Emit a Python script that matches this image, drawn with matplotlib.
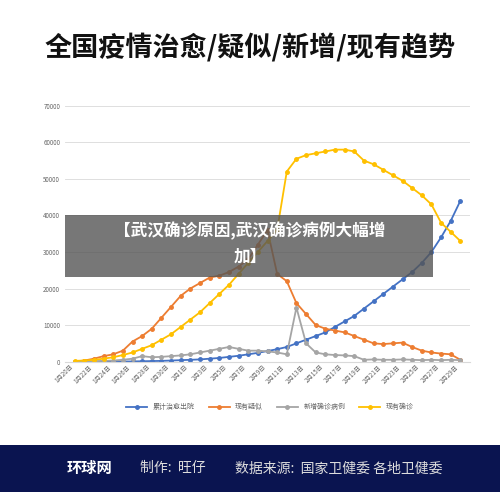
import matplotlib
matplotlib.use("Agg")
import matplotlib.pyplot as plt
import matplotlib.patches as mpatches
import numpy as np

plt.rcParams['font.family'] = ['Noto Sans CJK SC', 'DejaVu Sans']

dates = [f"1月{d}日" for d in range(20, 32)] + [f"2月{d}日" for d in range(1, 30)]
recovered = [0,0,0,0,0,30,50,100,150,200,300,400,500,600,800,1000,1300,1600,2000,2400,2900,
             3400,4000,5000,6000,7000,8000,9500,11000,12500,14500,16500,18500,20500,22500,24500,
             27000,30000,34000,38500,44000]
suspected = [0,300,800,1500,2000,3000,5500,7000,9000,12000,15000,18000,20000,21500,23000,23500,
             24500,26000,28000,32000,36000,24000,22000,16000,13000,10000,9000,8500,8000,7000,
             6000,5000,4800,5000,5200,4000,3000,2500,2200,2000,500]
new_cases = [0,0,100,200,300,500,800,1500,1200,1300,1500,1700,2000,2500,3000,3500,4000,3500,
             3000,3000,2800,2500,2000,14800,5000,2500,2000,1800,1700,1500,500,600,500,500,600,
             500,400,500,400,500,400]
existing = [200,300,500,800,1200,1800,2500,3500,4500,6000,7500,9500,11500,13500,16000,18500,
            21000,24000,27000,30000,33000,36000,52000,55500,56500,57000,57500,58000,58000,57500,
            55000,54000,52500,51000,49500,47500,45500,43000,38000,35500,33000]

fig = plt.figure(figsize=(5.0, 4.92), dpi=100)
fig.patch.set_facecolor('white')
fig.text(0.5, 0.903, "全国疫情治愈/疑似/新增/现有趋势", ha='center', va='center',
         fontsize=19.5, fontweight='bold', color='#111111')

ax = fig.add_axes([0.13, 0.265, 0.81, 0.52])
x = np.arange(len(dates))
ms = 2.5
ax.plot(x, recovered, color='#4472c4', marker='o', ms=ms, lw=1.3, label='累计治愈出院')
ax.plot(x, suspected, color='#ed7d31', marker='o', ms=ms, lw=1.3, label='现有疑似')
ax.plot(x, new_cases, color='#a5a5a5', marker='o', ms=ms, lw=1.3, label='新增确诊病例')
ax.plot(x, existing, color='#ffc000', marker='o', ms=ms, lw=1.3, label='现有确诊')
ax.set_ylim(0, 70000)
ax.set_yticks(range(0, 70001, 10000))
ax.set_xlim(-1, len(dates))
ax.set_xticks(x[::2])
ax.set_xticklabels(dates[::2], rotation=45, ha='right', fontsize=4.5, color='#666666')
ax.tick_params(axis='y', labelsize=4.5, colors='#666666', length=0)
ax.tick_params(axis='x', length=0, pad=1)
ax.grid(axis='y', color='#d9d9d9', lw=0.6)
ax.set_axisbelow(True)
for s in ['top', 'right', 'left']:
    ax.spines[s].set_visible(False)
ax.spines['bottom'].set_color('#d9d9d9')
fig.legend(loc='center', bbox_to_anchor=(0.54, 0.172), ncol=4, frameon=False,
           fontsize=5, labelcolor='#666666', handlelength=3)

fig.patches.append(mpatches.Rectangle((0.13, 0.437), 0.736, 0.126, transform=fig.transFigure,
                                      facecolor='#555555', alpha=0.8, zorder=10))
fig.text(0.5, 0.531, "【武汉确诊原因,武汉确诊病例大幅增", ha='center', va='center',
         fontsize=12, fontweight='bold', color='white', zorder=11)
fig.text(0.5, 0.478, "加】", ha='center', va='center',
         fontsize=12, fontweight='bold', color='white', zorder=11)

fig.patches.append(mpatches.Rectangle((0, 0), 1, 0.096, transform=fig.transFigure,
                                      facecolor='#0a1450', zorder=5))
fig.text(0.18, 0.048, "环球网", ha='center', va='center', fontsize=11, fontweight='bold',
         color='white', zorder=6)
fig.text(0.28, 0.048, "制作:  旺仔", ha='left', va='center', fontsize=10, color='#dddddd', zorder=6)
fig.text(0.47, 0.048, "数据来源:  国家卫健委 各地卫健委", ha='left', va='center', fontsize=10,
         color='#dddddd', zorder=6)

fig.savefig("out.png", dpi=100)
